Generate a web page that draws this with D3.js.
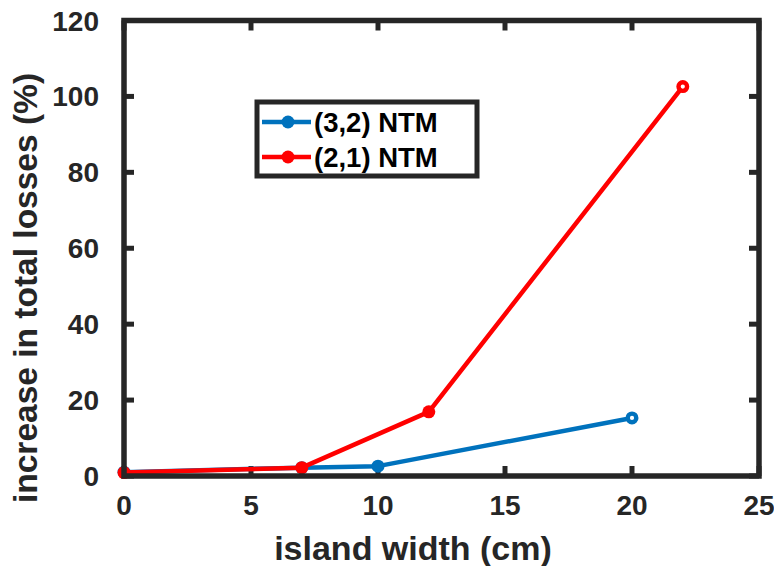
<!DOCTYPE html>
<html>
<head>
<meta charset="utf-8">
<script src="https://cdn.jsdelivr.net/npm/d3@7"></script>
<style>
  html, body { margin: 0; padding: 0; background: #fff; }
  svg { display: block; font-family: "Liberation Sans", Arial, sans-serif; font-weight: bold; }
</style>
</head>
<body>
<svg id="chart" width="774" height="566"></svg>
<script>
const seriesNames = ["(3,2) NTM", "(2,1) NTM"];
const seriesColors = ["#0072BD", "#FF0000"];
const x32 = [0, 7, 10, 20];
const y32 = [1.0, 2.2, 2.6, 15.3];
const x21 = [0, 7, 12, 22];
const y21 = [0.9, 2.2, 16.9, 102.6];
const xTicks = [0, 5, 10, 15, 20, 25];
const yTicks = [0, 20, 40, 60, 80, 100, 120];
const xLabel = "island width (cm)";
const yLabel = "increase in total losses (%)";

const svg = d3.select("#chart");
const axisColor = "#262626";
const x = d3.scaleLinear().domain([0, 25]).range([124, 759]);
const y = d3.scaleLinear().domain([0, 120]).range([476, 20.5]);

// ticks inside the box on all four sides
const tickLen = 10;
const g = svg.append("g");
xTicks.forEach(t => {
  g.append("line").attr("x1", x(t)).attr("x2", x(t)).attr("y1", y(0)).attr("y2", y(0) - tickLen)
    .attr("stroke", axisColor).attr("stroke-width", 5);
  g.append("line").attr("x1", x(t)).attr("x2", x(t)).attr("y1", y(120)).attr("y2", y(120) + tickLen)
    .attr("stroke", axisColor).attr("stroke-width", 5);
});
yTicks.forEach(t => {
  g.append("line").attr("x1", x(0)).attr("x2", x(0) + tickLen).attr("y1", y(t)).attr("y2", y(t))
    .attr("stroke", axisColor).attr("stroke-width", 5);
  g.append("line").attr("x1", x(25)).attr("x2", x(25) - tickLen).attr("y1", y(t)).attr("y2", y(t))
    .attr("stroke", axisColor).attr("stroke-width", 5);
});

// tick labels
svg.append("g").selectAll("text").data(xTicks).join("text")
  .attr("x", d => x(d)).attr("y", 515).attr("text-anchor", "middle")
  .attr("font-size", 28).attr("fill", axisColor).text(d => d);
svg.append("g").selectAll("text").data(yTicks).join("text")
  .attr("x", 99).attr("y", d => y(d)).attr("dy", "0.36em").attr("text-anchor", "end")
  .attr("font-size", 28).attr("fill", axisColor).text(d => d);

// axis labels
svg.append("text").attr("x", 413).attr("y", 560).attr("text-anchor", "middle")
  .attr("font-size", 34).attr("fill", axisColor).text(xLabel);
svg.append("text").attr("transform", "translate(37,288) rotate(-90)").attr("text-anchor", "middle")
  .attr("font-size", 33.5).attr("fill", axisColor).text(yLabel);

// series
const line = d3.line().x(d => x(d[0])).y(d => y(d[1]));
const series = [
  { xs: x32, ys: y32, color: seriesColors[0] },
  { xs: x21, ys: y21, color: seriesColors[1] }
];
series.forEach(s => {
  const pts = s.xs.map((v, i) => [v, s.ys[i]]);
  svg.append("path").datum(pts).attr("d", line).attr("fill", "none")
    .attr("stroke", s.color).attr("stroke-width", 4.5).attr("stroke-linejoin", "round");
  pts.forEach((p, i) => {
    const last = i === pts.length - 1;
    svg.append("circle").attr("cx", x(p[0])).attr("cy", y(p[1]))
      .attr("r", last ? 4.3 : 6.5)
      .attr("fill", last ? "#fff" : s.color)
      .attr("stroke", s.color).attr("stroke-width", last ? 4.4 : 0);
  });
});

// box frame
svg.append("rect").attr("x", x(0)).attr("y", y(120)).attr("width", x(25) - x(0)).attr("height", y(0) - y(120))
  .attr("fill", "none").attr("stroke", axisColor).attr("stroke-width", 5.5);

// legend
const lg = svg.append("g");
lg.append("rect").attr("x", 257).attr("y", 102).attr("width", 220).attr("height", 74)
  .attr("fill", "#fff").attr("stroke", axisColor).attr("stroke-width", 5);
seriesNames.forEach((name, i) => {
  const yy = 122 + i * 35;
  lg.append("line").attr("x1", 262).attr("x2", 311).attr("y1", yy).attr("y2", yy)
    .attr("stroke", seriesColors[i]).attr("stroke-width", 4.5);
  lg.append("circle").attr("cx", 288).attr("cy", yy).attr("r", 6.5).attr("fill", seriesColors[i]);
  lg.append("text").attr("x", 314).attr("y", yy).attr("dy", "0.36em")
    .attr("font-size", 27.5).attr("fill", "#000").text(name);
});
</script>
</body>
</html>
